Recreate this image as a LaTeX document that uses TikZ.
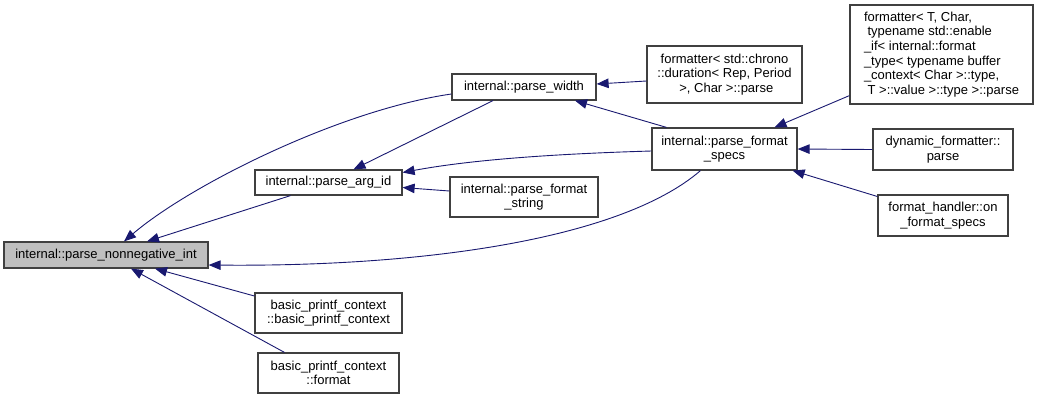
\documentclass[tikz,border=0pt]{standalone}
\usepackage{fontspec}
\setmainfont{Liberation Sans}
\usetikzlibrary{arrows.meta,calc}
\definecolor{edgecol}{HTML}{191970}
\definecolor{boxline}{HTML}{404040}
\definecolor{grayfill}{HTML}{BFBFBF}
\begin{document}
\begin{tikzpicture}[x=1pt,y=-1pt,
  box/.style={draw=boxline,line width=1.2pt,fill=white,inner sep=0pt,align=center,
    font=\fontsize{13}{14.6}\selectfont},
  edge/.style={draw=edgecol,line width=0.9pt,-{Triangle[length=12pt,width=9.5pt]}}]
\useasboundingbox (0,0) rectangle (1040,405);

\node[box,fill=grayfill,minimum width=204pt,minimum height=26pt] (N0) at (106,255) {internal::parse\_nonnegative\_int};
\node[box,minimum width=147pt,minimum height=25pt] (argid) at (328.5,182.5) {internal::parse\_arg\_id};
\node[box,minimum width=144pt,minimum height=26pt] (width) at (524,87) {internal::parse\_width};
\node[box,minimum width=148pt,minimum height=40pt] (fstring) at (524,197) {internal::parse\_format\\\_string};
\node[box,minimum width=147pt,minimum height=40pt] (bpc1) at (328.5,313) {basic\_printf\_context\\::basic\_printf\_context};
\node[box,minimum width=141pt,minimum height=40pt] (bpc2) at (328.5,373) {basic\_printf\_context\\::format};
\node[box,minimum width=145pt,minimum height=42pt] (specs) at (724.5,149) {internal::parse\_format\\\_specs};
\node[box,minimum width=155pt,minimum height=57pt] (chrono) at (724.5,74.5) {formatter\textless{} std::chrono\\::duration\textless{} Rep, Period\\\hspace*{3.6pt}\textgreater{}, Char \textgreater{}::parse};
\node[box,minimum width=183pt,minimum height=99pt,align=left] (fmtT) at (941.5,54.5) {formatter\textless{} T, Char,\\\hspace*{3.6pt}typename std::enable\\\_if\textless{} internal::format\\\_type\textless{} typename buffer\\\_context\textless{} Char \textgreater{}::type,\\\hspace*{3.6pt}T \textgreater{}::value \textgreater{}::type \textgreater{}::parse};
\node[box,minimum width=140pt,minimum height=41pt] (dynamic) at (943,149.5) {dynamic\_formatter::\\parse};
\node[box,minimum width=130pt,minimum height=41pt] (handler) at (943,215.5) {format\_handler::on\\\_format\_specs};

% edges (arrowhead at the called function)
\draw[edge] ($(width.west)+(0,7)$) .. controls (340,110) and (190,185) .. ($(N0.north)+(18,0)$);
\draw[edge] ($(argid.south)+(-38,0)$) -- ($(N0.north)+(41,0)$);
\draw[edge] ($(specs.south)+(-24,0)$) .. controls (620,240) and (420,267) .. ($(N0.east)+(0,10)$);
\draw[edge] ($(bpc1.west)+(0,-17)$) -- ($(N0.south)+(49,0)$);
\draw[edge] ($(bpc2.north)+(-44,0)$) -- ($(N0.south)+(25,0)$);
\draw[edge] ($(width.south)+(-31,0)$) -- ($(argid.north)+(25,0)$);
\draw[edge] ($(specs.north)+(-58,0)$) -- ($(width.south)+(51,0)$);
\draw[edge] ($(chrono.west)+(0,6.5)$) -- ($(width.east)+(0,-3)$);
\draw[edge] ($(specs.west)+(0,2)$) .. controls (550,154) and (470,160) .. ($(argid.east)+(0,-10)$);
\draw[edge] ($(fstring.west)+(0,-6)$) -- ($(argid.east)+(0,5)$);
\draw[edge] ($(fmtT.south west)+(0,-9)$) -- ($(specs.north)+(50,0)$);
\draw[edge] (dynamic.west) -- (specs.east);
\draw[edge] ($(handler.west)+(0,-19)$) -- ($(specs.south east)+(-5,0)$);
\end{tikzpicture}
\end{document}
